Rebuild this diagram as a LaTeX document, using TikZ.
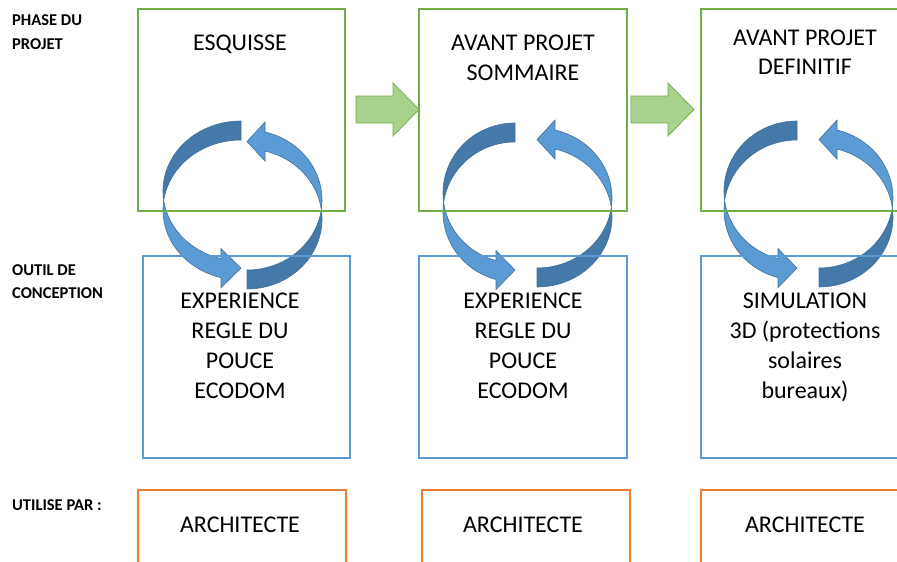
\documentclass[tikz,border=0pt]{standalone}
\usepackage{fontspec}
\setmainfont{Carlito}
\definecolor{phasegreen}{HTML}{70AD47}
\definecolor{toolblue}{HTML}{5B9BD5}
\definecolor{userorange}{HTML}{ED7D31}
\definecolor{arrowlight}{HTML}{5B9BD5}
\definecolor{arrowdark}{HTML}{4479AA}
\definecolor{arrowline}{HTML}{41719C}
\definecolor{blockgreen}{HTML}{A9D18E}
\tikzset{
  phasebox/.style={draw=phasegreen, line width=1.2pt, minimum width=207pt, minimum height=202pt, inner sep=0pt, outer sep=0pt},
  toolbox/.style={draw=toolblue, line width=1.2pt, minimum width=207pt, minimum height=202pt, inner sep=0pt, outer sep=0pt},
  userbox/.style={draw=userorange, line width=1.2pt, minimum width=208pt, minimum height=202pt, inner sep=0pt, outer sep=0pt},
  boxtext/.style={font=\fontsize{24}{29}\selectfont, anchor=base, inner sep=0pt},
  sidelabel/.style={font=\bfseries\fontsize{16.5}{20}\selectfont, anchor=base west, inner sep=0pt},
  blockarrow/.style={fill=blockgreen, draw=phasegreen, line width=0.7pt, line join=miter},
  cycdark/.style={fill=arrowdark, draw=arrowline, line width=0.6pt},
  cyclight/.style={fill=arrowlight, draw=arrowline, line width=0.6pt},
}
% #1 x of flat end, #2 centre y of first ellipse, #3 x radius, #4 y radius,
% #5 band thickness, #6 head length, #7 orientation (1 or -1)
\newcommand{\cyclearrow}[7]{%
  \pgfmathsetmacro{\cyA}{acos(-(#5)/(2*(#4)))}%
  \pgfmathsetmacro{\cyB}{acos((#5)/(2*(#4)))}%
  \pgfmathsetmacro{\cyC}{180-asin((#6)/(#3))}%
  \pgfmathsetmacro{\cyY}{#2+(#7)*(#5)}%
  \pgfmathsetmacro{\cyP}{#2-(#7)*(#4)*cos(\cyC)}%
  \pgfmathsetmacro{\cyQ}{\cyY-(#7)*(#4)*cos(\cyC)}%
  \pgfmathsetmacro{\cyH}{#1-(#7)*(#6)}%
  \pgfmathsetmacro{\cyM}{(\cyP+\cyQ)/2}%
  \pgfmathsetmacro{\cyQc}{\cyQ+(#7)*10}%
  \pgfmathsetmacro{\cyPc}{\cyP-(#7)*10}%
  \filldraw[cycdark] plot[domain=0:\cyA,samples=40] ({#1-(#7)*(#3)*sin(\x)},{#2-(#7)*(#4)*cos(\x)})
    -- plot[domain=\cyB:0,samples=40] ({#1-(#7)*(#3)*sin(\x)},{\cyY-(#7)*(#4)*cos(\x)}) -- cycle;
  \filldraw[cyclight] plot[domain=\cyB:\cyC,samples=40] ({#1-(#7)*(#3)*sin(\x)},{\cyY-(#7)*(#4)*cos(\x)})
    -- (\cyH,\cyQc) -- (#1,\cyM) -- (\cyH,\cyPc)
    -- plot[domain=\cyC:\cyA,samples=40] ({#1-(#7)*(#3)*sin(\x)},{#2-(#7)*(#4)*cos(\x)}) -- cycle;
}
\begin{document}
\begin{tikzpicture}[x=1pt, y=-1pt]
\clip (0,0) rectangle (897,562);
\fill[white] (0,0) rectangle (897,562);

% cycle arrows (behind the boxes)
\cyclearrow{241}{191}{78}{70}{19}{20}{1}
\cyclearrow{247}{219}{75}{70}{19}{18}{-1}
\cyclearrow{515}{193}{72}{70}{19}{19}{1}
\cyclearrow{537}{217}{75}{70}{19}{18}{-1}
\cyclearrow{797}{191}{73}{70}{19}{19}{1}
\cyclearrow{819}{217}{74}{70}{19}{18}{-1}

% boxes
\node[phasebox] (phase1) at (241.5,110) {};
\node[phasebox, minimum width=208pt] (phase2) at (523,110) {};
\node[phasebox, minimum width=208pt] (phase3) at (805,110) {};
\node[toolbox] (tool1) at (246.5,357) {};
\node[toolbox, minimum width=208pt] (tool2) at (523,357) {};
\node[toolbox, minimum width=208pt] (tool3) at (805,357) {};
\node[userbox] (user1) at (242,591) {};
\node[userbox] (user2) at (526,591) {};
\node[userbox] (user3) at (805,591) {};

% green block arrows
\filldraw[blockarrow] (356,96) -- (393,96) -- (393,83) -- (419,109.5) -- (393,136) -- (393,123) -- (356,123) -- cycle;
\filldraw[blockarrow] (631,96) -- (668,96) -- (668,83) -- (694,109.5) -- (668,136) -- (668,123) -- (631,123) -- cycle;

% side labels
\node[sidelabel] (lphase1) at (12,25) {PHASE DU};
\node[sidelabel] (lphase2) at (12,49) {PROJET};
\node[sidelabel] (ltool1) at (12,275) {OUTIL DE};
\node[sidelabel] (ltool2) at (12,298) {CONCEPTION};
\node[sidelabel] (luser) at (12,510) {UTILISE PAR :};

% phase texts
\node[boxtext] (t11) at (240,50) {ESQUISSE};
\node[boxtext] (t21) at (523,50) {AVANT PROJET};
\node[boxtext] (t22) at (523,80) {SOMMAIRE};
\node[boxtext] (t31) at (805,45) {AVANT PROJET};
\node[boxtext] (t32) at (805,74) {DEFINITIF};

% tool texts
\node[boxtext] (o11) at (240,308) {EXPERIENCE};
\node[boxtext] (o12) at (240,338) {REGLE DU};
\node[boxtext] (o13) at (240,368) {POUCE};
\node[boxtext] (o14) at (240,398) {ECODOM};
\node[boxtext] (o21) at (523,308) {EXPERIENCE};
\node[boxtext] (o22) at (523,338) {REGLE DU};
\node[boxtext] (o23) at (523,368) {POUCE};
\node[boxtext] (o24) at (523,398) {ECODOM};
\node[boxtext] (o31) at (805,308) {SIMULATION};
\node[boxtext] (o32) at (805,338) {3D (protections};
\node[boxtext] (o33) at (805,368) {solaires};
\node[boxtext] (o34) at (805,398) {bureaux)};

% user texts
\node[boxtext] (u1) at (240,532) {ARCHITECTE};
\node[boxtext] (u2) at (523,532) {ARCHITECTE};
\node[boxtext] (u3) at (805,532) {ARCHITECTE};
\end{tikzpicture}
\end{document}
